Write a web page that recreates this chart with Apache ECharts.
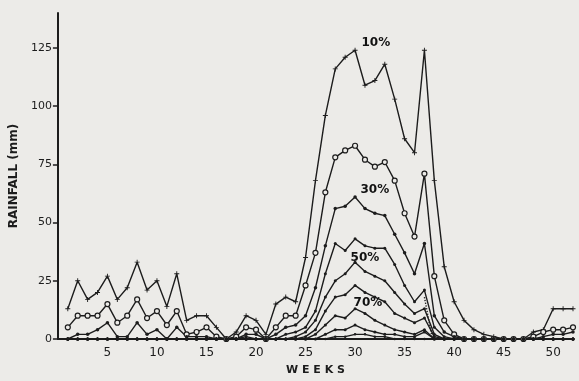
<!DOCTYPE html>
<html>
<head>
<meta charset="utf-8">
<style>
  html, body { margin: 0; padding: 0; background: #ecebe8; }
  #chart { width: 579px; height: 381px; }
</style>
<script src="https://cdn.jsdelivr.net/npm/echarts@6/dist/echarts.min.js"></script>
</head>
<body>
<div id="chart"></div>
<script>
// weeks 1..52
const weeks = Array.from({ length: 52 }, (_, i) => i + 1)

// weekly rainfall (mm) at each probability level
const p10 = [13, 25, 17, 20, 27, 17, 22, 33, 21, 25, 14, 28, 8, 10, 10, 5, 0, 3, 10, 8, 2, 15, 18, 16, 35, 68,
  96, 116, 121, 124, 109, 111, 118, 103, 86, 80, 124, 68, 31, 16, 8, 4, 2, 1, 0, 0, 0, 3, 4, 13, 13, 13]
const p20 = [5, 10, 10, 10, 15, 7, 10, 17, 9, 12, 6, 12, 2, 3, 5, 1, 0, 1, 5, 4, 0, 5, 10, 10, 23, 37,
  63, 78, 81, 83, 77, 74, 76, 68, 54, 44, 71, 27, 8, 2, 0, 0, 0, 0, 0, 0, 0, 1, 3, 4, 4, 5]
const p30 = [0, 2, 2, 4, 7, 1, 1, 7, 2, 4, 0, 5, 1, 1, 1, 0, 0, 0, 2, 2, 0, 2, 5, 6, 10, 22,
  40, 56, 57, 61, 56, 54, 53, 45, 37, 28, 41, 10, 3, 1, 0, 0, 0, 0, 0, 0, 0, 0, 1, 2, 2, 3]
const p40 = [0, 0, 0, 0, 0, 0, 0, 0, 0, 0, 0, 0, 0, 0, 0, 0, 0, 0, 1, 0, 0, 0, 2, 3, 5, 12,
  28, 41, 38, 43, 40, 39, 39, 32, 23, 16, 21, 5, 1, 0, 0, 0, 0, 0, 0, 0, 0, 0, 0, 0, 0, 0]
const p50 = [0, 0, 0, 0, 0, 0, 0, 0, 0, 0, 0, 0, 0, 0, 0, 0, 0, 0, 0, 0, 0, 0, 0, 1, 3, 8,
  18, 25, 28, 33, 29, 27, 25, 20, 15, 11, 13, 2, 0, 0, 0, 0, 0, 0, 0, 0, 0, 0, 0, 0, 0, 0]
const p60 = [0, 0, 0, 0, 0, 0, 0, 0, 0, 0, 0, 0, 0, 0, 0, 0, 0, 0, 0, 0, 0, 0, 0, 0, 1, 4,
  12, 18, 19, 23, 20, 18, 16, 11, 9, 7, 9, 1, 0, 0, 0, 0, 0, 0, 0, 0, 0, 0, 0, 0, 0, 0]
const p70 = [0, 0, 0, 0, 0, 0, 0, 0, 0, 0, 0, 0, 0, 0, 0, 0, 0, 0, 0, 0, 0, 0, 0, 0, 0, 2,
  6, 10, 9, 13, 11, 8, 6, 4, 3, 2, 4, 0, 0, 0, 0, 0, 0, 0, 0, 0, 0, 0, 0, 0, 0, 0]
const p80 = [0, 0, 0, 0, 0, 0, 0, 0, 0, 0, 0, 0, 0, 0, 0, 0, 0, 0, 0, 0, 0, 0, 0, 0, 0, 0,
  2, 4, 4, 6, 4, 3, 2, 2, 1, 1, 3, 0, 0, 0, 0, 0, 0, 0, 0, 0, 0, 0, 0, 0, 0, 0]
const p90 = [0, 0, 0, 0, 0, 0, 0, 0, 0, 0, 0, 0, 0, 0, 0, 0, 0, 0, 0, 0, 0, 0, 0, 0, 0, 0,
  0, 1, 1, 2, 2, 1, 1, 0, 0, 0, 0, 0, 0, 0, 0, 0, 0, 0, 0, 0, 0, 0, 0, 0, 0, 0]
// dotted drop after the week-37 spike
const dottedWeeks = [37, 37.8]
const dottedVals = [18, 0]

// curve labels: text, week, value
const labelTexts = ['10%', '30%', '50%', '70%']
const labelWeeks = [32.1, 32, 31, 31.3]
const labelVals = [127, 64, 35, 15.5]

const yTicks = [0, 25, 50, 75, 100, 125]

const INK = '#1c1c1c'
const BG = '#ecebe8'
const plusPath = 'path://M-0.18,-1H0.18V-0.18H1V0.18H0.18V1H-0.18V0.18H-1V-0.18H-0.18Z'

function pairs(vals) {
  return vals.map((v, i) => [weeks[i], v])
}

function curve(name, vals, symbol, size) {
  const hollow = symbol === 'hollow'
  return {
    name,
    type: 'line',
    data: pairs(vals),
    symbol: hollow ? 'circle' : symbol,
    symbolSize: size,
    showSymbol: true,
    lineStyle: { color: INK, width: 1.4 },
    itemStyle: { color: hollow ? BG : INK, borderColor: INK, borderWidth: hollow ? 1.2 : 0 },
    emphasis: { disabled: true },
    animation: false,
    z: 3,
  }
}

const chart = echarts.init(document.getElementById('chart'))

const series = [
  curve('10%', p10, plusPath, 5),
  curve('20%', p20, 'hollow', 5),
  curve('30%', p30, 'circle', 3.5),
  curve('40%', p40, 'circle', 3),
  curve('50%', p50, 'circle', 3),
  curve('60%', p60, 'circle', 3),
  curve('70%', p70, 'circle', 3),
  curve('80%', p80, 'circle', 3),
  curve('90%', p90, 'circle', 2.5),
  {
    name: 'dotted',
    type: 'line',
    data: dottedWeeks.map((w, i) => [w, dottedVals[i]]),
    showSymbol: false,
    lineStyle: { color: INK, width: 1.4, type: 'dotted' },
    itemStyle: { color: INK },
    animation: false,
  },
  {
    name: 'labels',
    type: 'scatter',
    data: labelTexts.map((t, i) => ({ value: [labelWeeks[i], labelVals[i]], name: t })),
    symbolSize: 1,
    itemStyle: { color: 'rgba(0,0,0,0)' },
    label: {
      show: true,
      formatter: (p) => p.name,
      color: '#111',
      opacity: 1,
      textBorderWidth: 0,
      fontSize: 12,
      fontWeight: 'bold',
      fontFamily: 'DejaVu Sans',
      position: 'inside',
    },
    animation: false,
    z: 5,
  },
]

chart.setOption({
  backgroundColor: BG,
  textStyle: { fontFamily: 'DejaVu Sans' },
  grid: { left: 57, right: 6, top: 13, bottom: 39 },
  xAxis: {
    type: 'value',
    min: 0,
    max: 52,
    interval: 5,
    name: 'W E E K S',
    nameLocation: 'middle',
    nameGap: 26,
    nameTextStyle: { color: INK, fontSize: 11, fontWeight: 'bold' },
    axisLine: { lineStyle: { color: INK, width: 2 } },
    axisTick: { show: false },
    splitLine: { show: false },
    axisLabel: {
      color: INK,
      fontSize: 12,
      margin: 8,
      showMinLabel: false,
      showMaxLabel: false,
      formatter: (v) => (v > 0 && v % 5 === 0 ? String(v) : ''),
    },
  },
  yAxis: {
    type: 'value',
    min: 0,
    max: 140,
    interval: 25,
    name: 'RAINFALL (mm)',
    nameLocation: 'middle',
    nameGap: 31,
    nameTextStyle: { color: INK, fontSize: 12, fontWeight: 'bold' },
    axisLine: { show: true, lineStyle: { color: INK, width: 2 } },
    axisTick: { show: true, length: 5, lineStyle: { color: INK, width: 1.5 } },
    splitLine: { show: false },
    axisLabel: {
      color: INK,
      fontSize: 11,
      margin: 6,
      showMaxLabel: false,
      formatter: (v) => (yTicks.includes(v) ? String(v) : ''),
    },
  },
  series,
})
</script>
</body>
</html>
